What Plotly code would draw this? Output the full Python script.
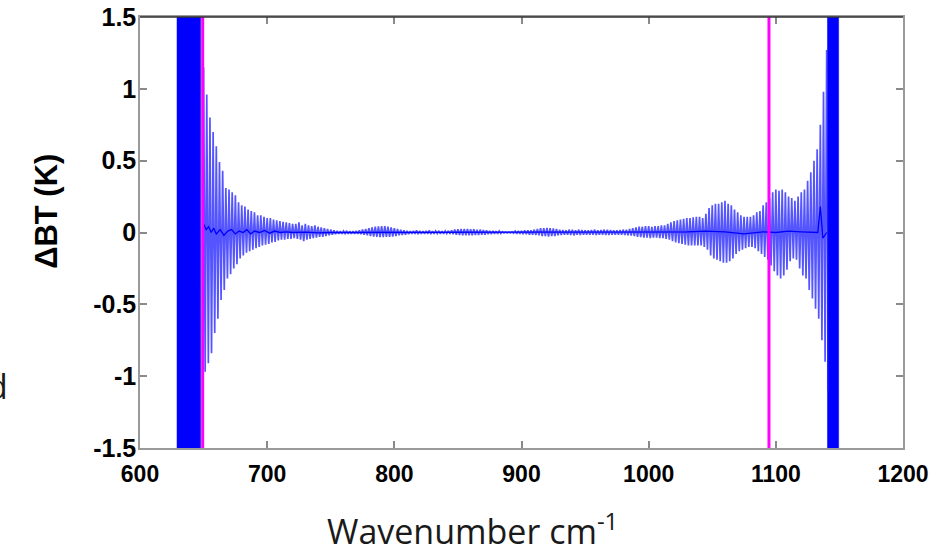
import plotly.graph_objects as go

# ---------------- data ----------------
WN_START = 650.0      # first sampled wavenumber (cm-1)
WN_STEP = 2.5         # spacing of the sampled envelope

# upper envelope of the oscillating dBT signal (K), 650 ... 1140 cm-1
DBT_UPPER = [
    1.15, 0.96, 0.80, 0.70, 0.60, 0.49, 0.43, 0.31, 0.30, 0.28,
    0.26, 0.21, 0.19, 0.18, 0.16, 0.15, 0.14, 0.12, 0.12, 0.11,
    0.10, 0.10, 0.09, 0.085, 0.08, 0.075, 0.07, 0.065, 0.06, 0.06,
    0.07, 0.05, 0.06, 0.05, 0.045, 0.05, 0.04, 0.035, 0.03, 0.025,
    0.02, 0.015, 0.012, 0.01, 0.01, 0.012, 0.01, 0.01, 0.012, 0.015,
    0.02, 0.025, 0.03, 0.035, 0.04, 0.042, 0.045, 0.045, 0.04, 0.035,
    0.03, 0.025, 0.02, 0.015, 0.012, 0.01, 0.012, 0.015, 0.012, 0.01,
    0.012, 0.015, 0.01, 0.01, 0.012, 0.01, 0.01, 0.012, 0.015, 0.02,
    0.022, 0.025, 0.025, 0.025, 0.022, 0.022, 0.02, 0.02, 0.018, 0.015,
    0.012, 0.012, 0.01, 0.01, 0.005, 0.003, 0.003, 0.005, 0.01, 0.012,
    0.012, 0.015, 0.015, 0.015, 0.02, 0.025, 0.03, 0.03, 0.032, 0.03,
    0.028, 0.025, 0.02, 0.018, 0.015, 0.02, 0.02, 0.015, 0.02, 0.018,
    0.015, 0.015, 0.018, 0.02, 0.015, 0.018, 0.02, 0.02, 0.018, 0.015,
    0.015, 0.018, 0.02, 0.02, 0.025, 0.03, 0.035, 0.04, 0.04, 0.045,
    0.045, 0.04, 0.045, 0.045, 0.05, 0.05, 0.06, 0.07, 0.08, 0.085,
    0.09, 0.095, 0.10, 0.10, 0.105, 0.11, 0.11, 0.10, 0.13, 0.17,
    0.19, 0.20, 0.20, 0.21, 0.22, 0.20, 0.19, 0.16, 0.14, 0.12,
    0.11, 0.11, 0.11, 0.12, 0.14, 0.15, 0.19, 0.21, 0.24, 0.28,
    0.30, 0.29, 0.30, 0.28, 0.25, 0.24, 0.22, 0.25, 0.28, 0.30,
    0.36, 0.42, 0.50, 0.58, 0.75, 0.98, 1.27,
]

# lower envelope of the oscillating dBT signal (K), same wavenumbers
DBT_LOWER = [
    -0.97, -0.91, -0.84, -0.70, -0.60, -0.47, -0.40, -0.32, -0.29, -0.25,
    -0.22, -0.18, -0.16, -0.14, -0.13, -0.12, -0.11, -0.10, -0.09, -0.085,
    -0.08, -0.07, -0.065, -0.055, -0.05, -0.05, -0.045, -0.045, -0.04, -0.045,
    -0.05, -0.06, -0.05, -0.045, -0.04, -0.035, -0.03, -0.03, -0.025, -0.02,
    -0.015, -0.012, -0.01, -0.01, -0.008, -0.01, -0.01, -0.01, -0.01, -0.012,
    -0.015, -0.02, -0.025, -0.028, -0.03, -0.032, -0.032, -0.03, -0.03, -0.028,
    -0.025, -0.02, -0.018, -0.015, -0.012, -0.01, -0.01, -0.012, -0.01, -0.01,
    -0.01, -0.012, -0.01, -0.008, -0.01, -0.01, -0.008, -0.01, -0.012, -0.015,
    -0.018, -0.02, -0.02, -0.02, -0.02, -0.018, -0.018, -0.015, -0.015, -0.012,
    -0.012, -0.01, -0.01, -0.008, -0.004, -0.003, -0.003, -0.005, -0.01, -0.01,
    -0.012, -0.012, -0.015, -0.015, -0.018, -0.02, -0.025, -0.025, -0.028, -0.025,
    -0.025, -0.02, -0.018, -0.015, -0.015, -0.018, -0.02, -0.015, -0.018, -0.015,
    -0.015, -0.015, -0.015, -0.018, -0.015, -0.015, -0.018, -0.018, -0.015, -0.015,
    -0.015, -0.015, -0.018, -0.02, -0.022, -0.025, -0.03, -0.032, -0.035, -0.035,
    -0.04, -0.035, -0.035, -0.04, -0.04, -0.045, -0.05, -0.06, -0.07, -0.075,
    -0.08, -0.085, -0.09, -0.09, -0.09, -0.09, -0.09, -0.10, -0.12, -0.16,
    -0.18, -0.19, -0.20, -0.21, -0.21, -0.20, -0.18, -0.15, -0.13, -0.12,
    -0.11, -0.10, -0.10, -0.11, -0.13, -0.15, -0.17, -0.19, -0.23, -0.27,
    -0.30, -0.32, -0.30, -0.26, -0.20, -0.18, -0.19, -0.25, -0.30, -0.32,
    -0.40, -0.46, -0.53, -0.60, -0.75, -0.90, -1.10,
]

# mean dBT (dark line through the middle)
MEAN_WN = [650, 652, 654, 656, 658, 660, 663, 666, 669, 672, 675, 678, 681, 684, 687,
           690, 694, 698, 702, 706, 710, 715, 720, 730, 740, 750, 770, 800, 830, 860,
           900, 950, 1000, 1030, 1045, 1060, 1075, 1090, 1100, 1110, 1120, 1130, 1133,
           1135, 1137, 1140]
MEAN_DBT = [0.06, 0.02, 0.04, 0.0, 0.03, -0.01, 0.02, -0.02, 0.01, 0.02, -0.01, 0.01, 0.0,
            0.02, -0.01, 0.01, 0.0, 0.015, -0.005, 0.01, 0.0, 0.005, 0.0, 0.003, -0.003,
            0.0, 0.0, 0.0, 0.0, 0.0, 0.0, 0.0, 0.0, 0.005, 0.01, 0.005, -0.01, 0.005, 0.0,
            0.01, 0.005, 0.005, 0.0, 0.18, -0.04, 0.0]

# saturated (off-scale) regions at the band edges (cm-1)
LEFT_BAND_WN = [629.1, 647.7]
RIGHT_BAND_WN = [1140.6, 1149.4]
BAND_DBT = 3.0  # off scale

# magenta marker lines (cm-1)
MARKER_WN = [649.3, 1094.6]

X_TICKS = [600, 700, 800, 900, 1000, 1100, 1200]
X_TICK_TEXT = ["600", "700", "800", "900", "1000", "1100", "1200"]
Y_TICKS = [-1.5, -1, -0.5, 0, 0.5, 1, 1.5]
Y_TICK_TEXT = ["-1.5", "-1", "-0.5", "0", "0.5", "1", "1.5"]
X_RANGE = [600, 1200]
Y_RANGE = [-1.5, 1.5]

# ---------------- build traces ----------------
wn = [WN_START + WN_STEP * i for i in range(len(DBT_UPPER))]
half = WN_STEP / 2.0
sig_x, sig_y = [], []
for w, u, l in zip(wn, DBT_UPPER, DBT_LOWER):
    sig_x += [w, w + half]
    sig_y += [u, l]

fig = go.Figure()

for a, b in (LEFT_BAND_WN, RIGHT_BAND_WN):
    fig.add_trace(go.Scatter(
        x=[a, b, b, a, a], y=[-BAND_DBT, -BAND_DBT, BAND_DBT, BAND_DBT, -BAND_DBT],
        mode="lines", fill="toself", fillcolor="#0000ff",
        line=dict(width=0.5, color="#0000ff"), hoverinfo="skip", showlegend=False))

fig.add_trace(go.Scatter(
    x=sig_x, y=sig_y, mode="lines",
    line=dict(color="rgba(20,20,255,0.72)", width=1.7),
    hoverinfo="skip", showlegend=False))

fig.add_trace(go.Scatter(
    x=MEAN_WN, y=MEAN_DBT, mode="lines",
    line=dict(color="#0000ff", width=1.3),
    hoverinfo="skip", showlegend=False))

mx, my = [], []
for w in MARKER_WN:
    mx += [w, w, None]
    my += [Y_RANGE[0], Y_RANGE[1], None]
fig.add_trace(go.Scatter(
    x=mx, y=my, mode="lines", line=dict(color="#ff00ff", width=3),
    hoverinfo="skip", showlegend=False))

x_tick_font = dict(family="Liberation Sans, Arial, sans-serif", size=23,
                   color="black", weight="bold")
y_tick_font = dict(family="Liberation Sans, Arial, sans-serif", size=25,
                   color="black", weight="bold")

fig.update_xaxes(range=X_RANGE, tickmode="array", tickvals=X_TICKS, ticktext=X_TICK_TEXT,
                 ticks="inside", ticklen=7, tickcolor="#8a8a8a", tickwidth=1.5,
                 showline=True, linecolor="#9a9a9a", linewidth=1.5, mirror="ticks",
                 showgrid=False, zeroline=False, tickfont=x_tick_font,
                 ticklabelstandoff=5, automargin=False)
fig.update_yaxes(range=Y_RANGE, tickmode="array", tickvals=Y_TICKS, ticktext=Y_TICK_TEXT,
                 ticks="inside", ticklen=7, tickcolor="#8a8a8a", tickwidth=1.5,
                 showline=True, linecolor="#9a9a9a", linewidth=1.5, mirror="ticks",
                 showgrid=False, zeroline=False, tickfont=y_tick_font,
                 ticklabelstandoff=-3, automargin=False)

fig.update_layout(
    width=947, height=554,
    margin=dict(l=140, r=44, t=17, b=106, autoexpand=False),
    paper_bgcolor="white", plot_bgcolor="white",
    showlegend=False,
    shapes=[dict(type="line", xref="paper", yref="paper", x0=0, x1=1, y0=1, y1=1,
                 line=dict(color="#303030", width=1.5), layer="above")],
    annotations=[
        dict(text="<b>ΔBT (K)</b>", xref="paper", yref="paper",
             x=-0.122, y=0.55, xanchor="center", yanchor="middle", textangle=-90,
             showarrow=False,
             font=dict(family="Liberation Sans, Arial, sans-serif", size=31, color="black")),
        dict(text="Wavenumber cm<sup>-1</sup>", xref="paper", yref="paper",
             x=0.436, y=-0.19, xanchor="center", yanchor="middle", showarrow=False,
             font=dict(family="Open Sans, sans-serif", size=34, color="#1a1a1a")),
        dict(text="d", xref="paper", yref="paper",
             x=-0.170, y=0.145, xanchor="right", yanchor="middle", showarrow=False,
             font=dict(family="Open Sans, sans-serif", size=34, color="#1a1a1a")),
    ],
)

fig.write_html("out.html")
